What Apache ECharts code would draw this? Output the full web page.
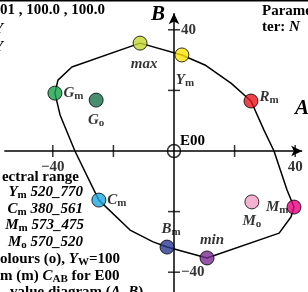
<!DOCTYPE html>
<html lang="en">
<head>
    <meta charset="UTF-8">
    <title>colour AB diagram</title>
    <script src="https://cdn.jsdelivr.net/npm/echarts@6/dist/echarts.min.js"></script>
    <style>
        body { margin: 0; background: #fff; }
        #main { width: 308px; height: 292px; }
    </style>
</head>
<body>
<div id="main"></div>
<script type="text/javascript">
    // outline through the device colours (m), in A,B units
    var outlineA = [-39.3, -38.3, -33.7, -11.2, 2.6, 10.2, 18.9, 25.4, 29.7, 33.0, 37.3, 39.6, 38.6, 34.7, 10.9, -2.3, -6.9, -14.5, -24.8, -32.7, -37.6, -39.3];
    var outlineB = [19.1, 23.4, 27.7, 35.6, 31.7, 28.4, 22.3, 16.5, 6.9, 0.0, -12.9, -18.5, -21.8, -27.1, -35.3, -31.7, -30.0, -26.1, -16.2, 0.0, 11.9, 19.1];

    // marked colours
    var ptNames = ['max', 'Ym', 'Rm', 'Mm', 'Mo', 'min', 'Bm', 'Cm', 'Gm', 'Go'];
    var ptA = [-11.2, 2.6, 25.4, 39.6, 25.7, 10.9, -2.3, -24.8, -39.3, -25.7];
    var ptB = [35.6, 31.7, 16.5, -18.5, -16.8, -35.3, -31.7, -16.2, 19.1, 16.8];
    var ptColors = ['#c3d82e', '#ffe400', '#e8141c', '#e6007e', '#f29ec4', '#7a2a92', '#2b3990', '#1ba9e1', '#16a24a', '#19704a'];

    var tickVals = [-40, -20, 20, 40];
    var tickLabelVals = [-40, 40];

    var S = 3.03, ox = 174, oy = 151, W = 308, H = 292;

    var serif = '"Liberation Serif", "DejaVu Serif", serif';
    var rich = {
        i: { fontFamily: serif, fontWeight: 'bold', fontStyle: 'italic', fontSize: 15, color: '#000' },
        n: { fontFamily: serif, fontWeight: 'bold', fontSize: 15, color: '#000' },
        s: { fontFamily: serif, fontWeight: 'bold', fontSize: 11, color: '#000', verticalAlign: 'bottom', padding: [6, 0, 0, 0] }
    };

    var labelText = {
        max: '{i|max}', Ym: '{i|Y}{s|m}', Rm: '{i|R}{s|m}', Mm: '{i|M}{s|m}', Mo: '{i|M}{s|o}',
        min: '{i|min}', Bm: '{i|B}{s|m}', Cm: '{i|C}{s|m}', Gm: '{i|G}{s|m}', Go: '{i|G}{s|o}'
    };
    var labelPos = {
        max: { position: 'bottom', distance: 6, offset: [4, 0] },
        Ym: { position: 'bottom', distance: 9, offset: [3, 0] },
        Rm: { position: 'right', distance: 1, offset: [0, -4] },
        Mm: { position: 'left', distance: -2, offset: [0, 0] },
        Mo: { position: 'bottom', distance: 3, offset: [0, 0] },
        min: { position: 'top', distance: 3, offset: [5, 0] },
        Bm: { position: 'top', distance: 2, offset: [4, 0] },
        Cm: { position: 'right', distance: 1, offset: [0, 0] },
        Gm: { position: 'right', distance: 1, offset: [0, 0] },
        Go: { position: 'bottom', distance: 4, offset: [0, 0] }
    };

    var outline = [];
    for (var i = 0; i < outlineA.length; i++) outline.push([outlineA[i], outlineB[i]]);

    var points = [];
    for (var j = 0; j < ptNames.length; j++) {
        var lp = labelPos[ptNames[j]];
        points.push({
            value: [ptA[j], ptB[j]],
            itemStyle: { color: ptColors[j] },
            label: { show: true, formatter: labelText[ptNames[j]], position: lp.position, distance: lp.distance, offset: lp.offset, rich: rich }
        });
    }

    var xTicks = [], yTicks = [];
    for (var k = 0; k < tickVals.length; k++) {
        xTicks.push([tickVals[k], 0]);
        yTicks.push([0, tickVals[k]]);
    }
    var fmt = function (v) { return v < 0 ? '\u221240' : '40'; };
    var xLabels = tickLabelVals.map(function (v) { return { value: [v, 0], label: { formatter: fmt(v) } }; });
    var yLabels = tickLabelVals.map(function (v) { return { value: [0, v], label: { formatter: fmt(v) } }; });

    var myChart = echarts.init(document.getElementById('main'), null, { renderer: 'canvas' });

    function txt(x, y, text, align) {
        return {
            type: 'text', x: x, y: y, z: 10,
            style: { text: text, rich: rich, font: 'bold 15px ' + serif, fill: '#000', align: align || 'left', verticalAlign: 'middle' }
        };
    }

    var option = {
        animation: false,
        backgroundColor: '#fff',
        grid: { left: 0, right: 0, top: 0, bottom: 0 },
        xAxis: { type: 'value', min: -ox / S, max: (W - ox) / S, show: false },
        yAxis: { type: 'value', min: -(H - oy) / S, max: oy / S, show: false },
        graphic: [
            { type: 'rect', shape: { x: 0, y: 0, width: W, height: 1.5 }, style: { fill: '#000' } },
            txt(0, 10, '{n|01 , 100.0 , 100.0}'),
            txt(-6, 29, '{i|Y}'),
            txt(-6, 47, '{i|Y}'),
            txt(262, 11, '{n|Parame}'),
            txt(262, 27, '{n|ter: }{i|N}'),
            { type: 'text', x: 151, y: 15, z: 10, style: { text: 'B', font: 'italic bold 21px ' + serif, fill: '#000', verticalAlign: 'middle' } },
            { type: 'text', x: 295, y: 109, z: 10, style: { text: 'A', font: 'italic bold 21px ' + serif, fill: '#000', verticalAlign: 'middle' } },
            txt(180, 141, '{n|E00}'),
            txt(79, 177, '{n|ectral range}', 'right'),
            txt(83, 192, '{i|Y}{s|m}{i| 520_770}', 'right'),
            txt(83, 209, '{i|C}{s|m}{i| 380_561}', 'right'),
            txt(84, 225, '{i|M}{s|m}{i| 573_475}', 'right'),
            txt(83, 242, '{i|M}{s|o}{i| 570_520}', 'right'),
            txt(0, 259, '{n|olours (o), }{i|Y}{s|W}{n|=100}'),
            txt(0, 276, '{n|m (m) }{i|C}{s|AB}{n| for E00}'),
            txt(10, 292, '{n|value diagram (}{i|A}{n|, }{i|B}{n|)}')
        ],
        series: [
            {
                type: 'line', data: outline, symbol: 'none', silent: true, z: 2,
                lineStyle: { color: '#000', width: 1.5 },
                markLine: {
                    silent: true, symbol: ['none', 'arrow'], symbolSize: [8, 11],
                    label: { show: false },
                    lineStyle: { color: '#000', width: 1.5, type: 'solid' },
                    data: [
                        [{ coord: [-56, 0] }, { coord: [42.3, 0] }],
                        [{ coord: [0, -(H - oy) / S] }, { coord: [0, 45.5] }]
                    ]
                }
            },
            {
                type: 'scatter', data: xTicks, symbol: 'rect', symbolSize: [1.5, 12], silent: true, z: 3,
                itemStyle: { color: '#000' }
            },
            {
                type: 'scatter', data: yTicks, symbol: 'rect', symbolSize: [12, 1.5], silent: true, z: 3,
                itemStyle: { color: '#000' }
            },
            {
                type: 'scatter', data: xLabels, symbolSize: 0, silent: true, z: 4,
                label: { show: true, position: 'bottom', distance: 9, fontFamily: serif, fontWeight: 'bold', fontSize: 15, color: '#000' }
            },
            {
                type: 'scatter', data: yLabels, symbolSize: 0, silent: true, z: 4,
                label: { show: true, position: 'right', distance: 7, fontFamily: serif, fontWeight: 'bold', fontSize: 15, color: '#000' }
            },
            {
                type: 'scatter', data: [[0, 0]], symbol: 'circle', symbolSize: 13, silent: true, z: 4,
                itemStyle: { color: 'rgba(255,255,255,0)', borderColor: '#000', borderWidth: 1.5 }
            },
            {
                type: 'scatter', data: points, symbol: 'circle', symbolSize: 14, silent: true, z: 5,
                itemStyle: { borderColor: '#000', borderWidth: 1 }
            }
        ]
    };
    myChart.setOption(option);
</script>
</body>
</html>
